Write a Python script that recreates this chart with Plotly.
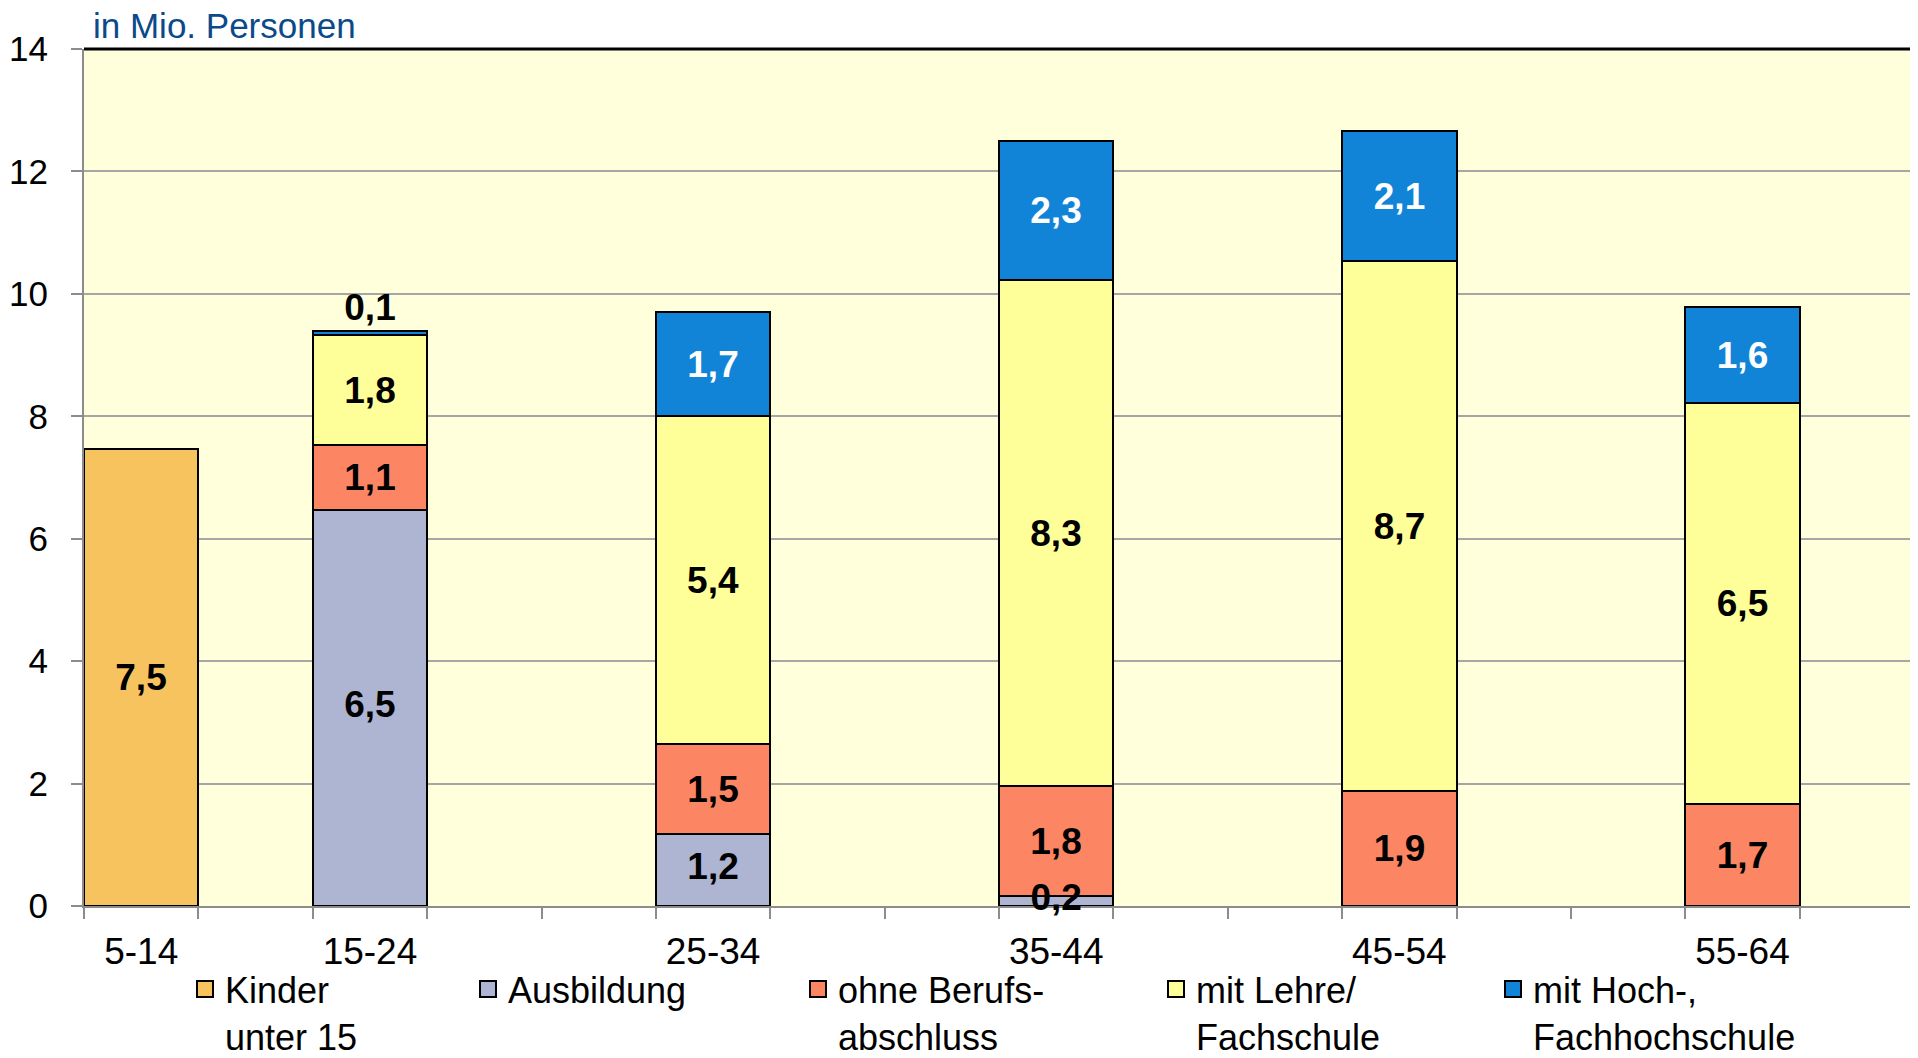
import plotly.graph_objects as go

# ---- data (values in Mio. Personen) ----
categories = ["5-14", "15-24", "25-34", "35-44", "45-54", "55-64"]
kinder = [7.47, None, None, None, None, None]
ausbildung = [None, 6.47, 1.17, 0.17, None, None]
ohne_abschluss = [None, 1.06, 1.47, 1.79, 1.88, 1.67]
lehre = [None, 1.80, 5.36, 8.26, 8.65, 6.54]
hochschule = [None, 0.06, 1.71, 2.28, 2.13, 1.58]

series_names = ["Kinder<br>unter 15", "Ausbildung", "ohne Berufs-<br>abschluss",
                "mit Lehre/<br>Fachschule", "mit Hoch-,<br>Fachhochschule"]
y_ticks = [0, 2, 4, 6, 8, 10, 12, 14]

# ---- layout constants ----
slot = [0, 2, 5, 8, 11, 14]          # category slots on a 16-slot axis
colors = ["#F7C35F", "#AEB5D3", "#FC8563", "#FFFF99", "#1284D7"]
PAGE_OFF = 8                          # default body margin of the html page
W, H = 1910, 1050
ML, MR, MT, MB = 76, 4, 41, 152
PW = W - ML - MR
PH = H - MT - MB
FONT = "Liberation Sans, Arial, sans-serif"
LABEL_FONT = dict(family=FONT, size=37, weight="bold")

series = [kinder, ausbildung, ohne_abschluss, lehre, hochschule]
legend_keys = ["legend", "legend2", "legend3", "legend4", "legend5"]
legend_text_px = [225, 508, 838, 1196, 1533]   # page x of legend texts

fig = go.Figure()
for i, vals in enumerate(series):
    xs = [slot[j] for j, v in enumerate(vals) if v is not None]
    ys = [v for v in vals if v is not None]
    tpos = ["outside" if v < 0.12 else "inside" for v in ys]
    bottom_series = (i == 1)   # labels of the lowest stacked series go on top later
    fig.add_trace(go.Bar(
        x=xs, y=ys, width=1, showlegend=False,
        marker=dict(color=colors[i], line=dict(color="black", width=2)),
        texttemplate="" if bottom_series else "%{y:.1f}", textposition=tpos,
        insidetextanchor="middle", constraintext="none", textangle=0,
        insidetextfont=dict(LABEL_FONT, color="white" if i == 4 else "black"),
        outsidetextfont=dict(LABEL_FONT, color="black"),
        cliponaxis=False, hoverinfo="skip",
    ))
    # legend entry with a larger square swatch
    fig.add_trace(go.Scatter(
        x=[None], y=[None], mode="markers", name=series_names[i],
        legend=legend_keys[i],
        marker=dict(symbol="square", size=16, color=colors[i],
                    line=dict(color="black", width=2)),
        hoverinfo="skip",
    ))

# labels of the "Ausbildung" segments drawn above all bars (centre of each segment)
aus_x = [slot[j] for j, v in enumerate(ausbildung) if v is not None]
aus_v = [v for v in ausbildung if v is not None]
fig.add_trace(go.Scatter(
    x=aus_x, y=[v / 2 for v in aus_v], customdata=aus_v,
    mode="text", texttemplate="%{customdata:.1f}", textposition="middle center",
    textfont=dict(LABEL_FONT, color="black"), showlegend=False,
    cliponaxis=False, hoverinfo="skip",
))

layout_legends = {}
for k, tx in zip(legend_keys, legend_text_px):
    layout_legends[k] = dict(
        orientation="h", x=(tx - PAGE_OFF - 40 - ML) / PW, xanchor="left",
        y=-0.062, yanchor="top", valign="top", bgcolor="rgba(0,0,0,0)",
        font=dict(family=FONT, size=36, color="black"),
        itemsizing="trace", itemclick=False, itemdoubleclick=False,
    )

fig.update_layout(
    width=W, height=H,
    margin=dict(l=ML, r=MR, t=MT, b=MB, autoexpand=False),
    paper_bgcolor="white", plot_bgcolor="#FFFFDC",
    barmode="stack", bargap=0,
    separators=", ",
    font=dict(family=FONT, size=35, color="black"),
    showlegend=True,
    **layout_legends,
    xaxis=dict(
        range=[-0.5, 15.5], tickvals=slot, ticktext=categories,
        ticks="", showgrid=False, zeroline=False,
        showline=True, linecolor="#8C8C8C", linewidth=2,
        tickfont=dict(family=FONT, size=37, color="black"),
        ticklabelstandoff=12, layer="below traces",
        minor=dict(ticks="outside", tick0=-0.5, dtick=1, ticklen=11,
                   tickcolor="#8C8C8C", tickwidth=2, showgrid=False),
        fixedrange=True,
    ),
    yaxis=dict(
        range=[0, 14], tickvals=y_ticks, ticks="outside", ticklen=11,
        tickcolor="#8C8C8C", tickwidth=2,
        showgrid=True, gridcolor="#A6A6A6", gridwidth=2, zeroline=False,
        showline=True, linecolor="#8C8C8C", linewidth=2,
        tickfont=dict(family=FONT, size=35, color="black"),
        ticklabelstandoff=16, fixedrange=True,
    ),
    annotations=[dict(
        text="in Mio. Personen", xref="paper", yref="paper",
        x=(92 - PAGE_OFF - ML) / PW, y=1, xanchor="left", yanchor="bottom",
        yshift=3, showarrow=False, borderpad=0,
        font=dict(family=FONT, size=35, color="#0B4A8A"),
    )],
    shapes=[
        dict(type="line", xref="paper", yref="paper", x0=0, x1=1, y0=1, y1=1,
             line=dict(color="black", width=3)),
        dict(type="line", xref="paper", yref="paper", x0=1, x1=1, y0=0, y1=1,
             line=dict(color="black", width=3)),
    ],
)

fig.write_html("out.html")
